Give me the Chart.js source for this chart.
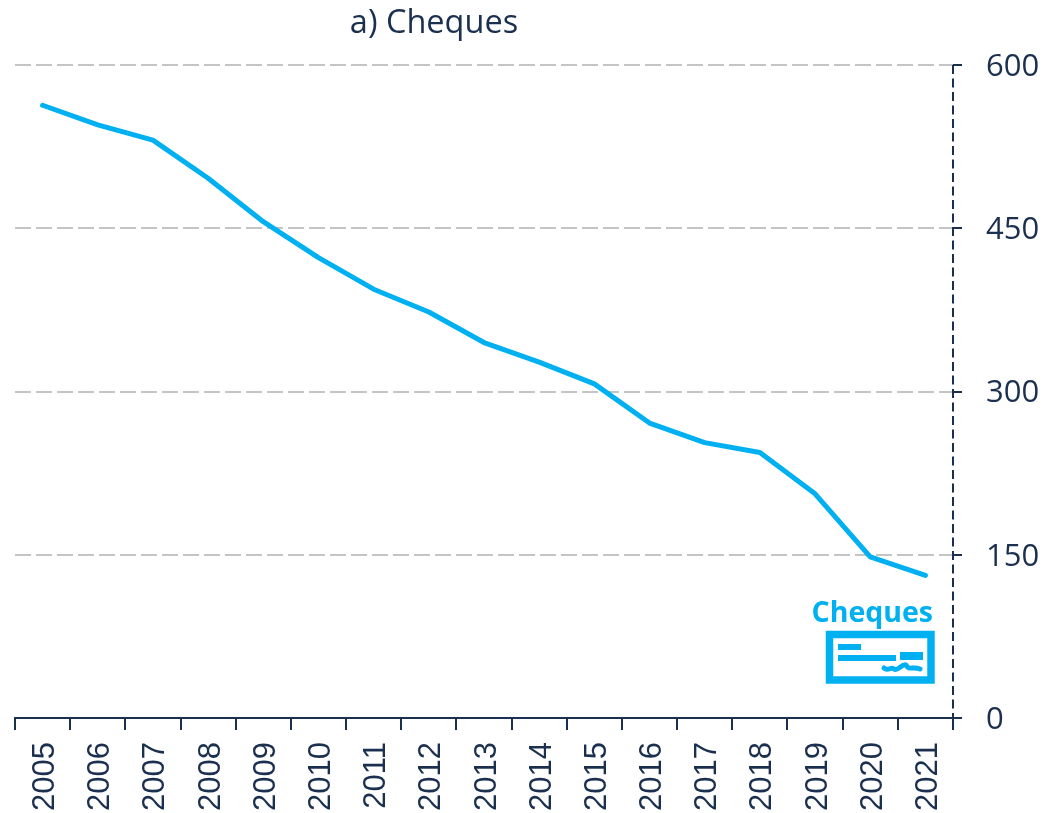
<!DOCTYPE html>
<html><head><meta charset="utf-8">
<style>html,body{margin:0;padding:0;background:#fff}#w{width:1044px;height:813px;position:relative}</style>
<script src="https://cdn.jsdelivr.net/npm/chart.js@4/dist/chart.umd.min.js"></script>
</head><body><div id="w"><canvas id="c" width="1044" height="813"></canvas></div>
<script>
const years=['2005','2006','2007','2008','2009','2010','2011','2012','2013','2014','2015','2016','2017','2018','2019','2020','2021'];
const cheques=[563,545,531,496,456,423,394,373,345,327,307,271,253,244,206,148,131];
const yTicks=[0,150,300,450,600];
const titleText='a) Cheques';
const seriesLabel='Cheques';
const NAVY='#1b2f4f',BLUE='#00b0f0',GRID='#c4c4c4',FONT='"Open Sans", sans-serif';
const deco={id:'deco',afterDraw(ch){
  const x=ch.ctx,a=ch.chartArea;x.save();
  x.strokeStyle=NAVY;x.lineWidth=2;x.setLineDash([9,4.5]);x.beginPath();x.moveTo(a.right,a.top);x.lineTo(a.right,a.bottom+12);x.stroke();x.setLineDash([]);
  x.fillStyle=NAVY;x.font='32.5px '+FONT;x.textAlign='center';x.textBaseline='alphabetic';
  x.fillText(titleText,434,33);
  x.fillStyle=BLUE;x.font='bold 28.5px '+FONT;x.textAlign='right';
  x.fillText(seriesLabel,933,622);
  x.strokeStyle=BLUE;x.lineWidth=7.5;x.strokeRect(829.5,634.5,101.5,45.5);
  x.fillRect(838,644,23,6);x.fillRect(838,655,58,6);x.fillRect(900,652,23,8);
  x.lineWidth=5;x.lineCap='round';x.lineJoin='round';x.beginPath();
  x.moveTo(884,668);x.bezierCurveTo(888,672,891,666,894,669);x.bezierCurveTo(898,672,902,663,906,665);
  x.bezierCurveTo(909,671,913,666,920,669);x.stroke();
  x.restore();
}};
new Chart(document.getElementById('c'),{type:'line',
 data:{labels:years,datasets:[{data:cheques,borderColor:BLUE,borderWidth:5,pointRadius:0,tension:0,borderCapStyle:'round',borderJoinStyle:'round',fill:false}]},
 options:{responsive:false,animation:false,devicePixelRatio:1,
  layout:{padding:{left:15,top:65,right:0,bottom:0}},
  plugins:{legend:{display:false},title:{display:false},tooltip:{enabled:false}},
  scales:{
   x:{offset:true,grid:{offset:true,drawOnChartArea:false,drawTicks:true,tickLength:12,tickColor:NAVY,lineWidth:2},
      border:{color:NAVY,width:2},
      ticks:{minRotation:90,maxRotation:90,autoSkip:false,color:NAVY,font:{family:'"Liberation Sans", Arial, sans-serif',size:31},padding:12,labelOffset:3},
      afterFit(s){s.height=95;}},
   y:{position:'right',min:0,max:600,
      afterBuildTicks(s){s.ticks=yTicks.map(v=>({value:v}));},
      grid:{color:GRID,lineWidth:2,tickColor:NAVY,tickLength:9,tickBorderDash:[],drawTicks:true},
      border:{display:false,dash:[16,5]},
      ticks:{color:NAVY,font:{family:FONT,size:31},padding:24,align:'center',labelOffset:2},
      afterFit(s){s.width=91;}}
  }
 },plugins:[deco]});
</script></body></html>
